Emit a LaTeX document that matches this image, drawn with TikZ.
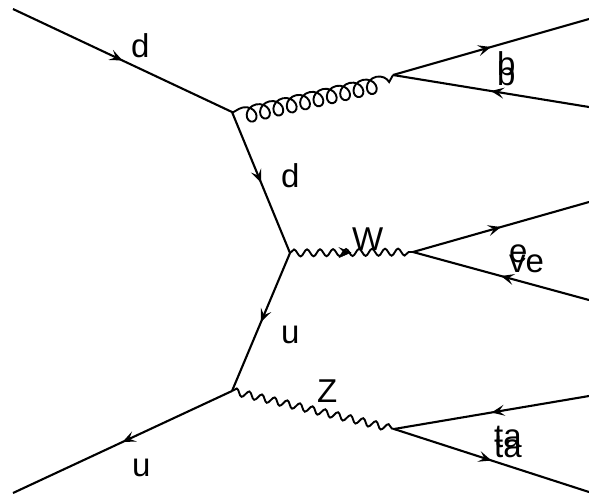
\documentclass[tikz,border=0pt]{standalone}
\usepackage{fontspec}
\setmainfont{Liberation Sans}
\usetikzlibrary{decorations.pathmorphing,decorations.markings,arrows.meta}
\begin{document}
\begin{tikzpicture}[x=1pt,y=-1pt,
  fermion/.style={draw, line width=2.1pt, postaction={decorate},
    decoration={markings, mark=at position 0.5 with {\arrow{Stealth[length=13pt,width=11pt,inset=5.5pt]}}}},
  gluon/.style={draw, line width=1.9pt, decorate,
    decoration={coil, amplitude=8pt, segment length=13.7pt, aspect=1, raise=-6pt, pre length=0pt, post length=0pt}},
  photon/.style={draw, line width=1.9pt, decorate,
    decoration={snake, amplitude=3.5pt, segment length=13pt}},
  midarrow/.style={draw=none, postaction={decorate},
    decoration={markings, mark=at position 0.5 with {\arrow{Stealth[length=13pt,width=11pt,inset=5.5pt]}}}},
  lbl/.style={anchor=base west, inner sep=0pt, font=\fontsize{33}{33}\selectfont}]
\useasboundingbox (0,0) rectangle (589,496);
% vertices
\coordinate (v1) at (232,112);
\coordinate (v2) at (393,75);
\coordinate (v3) at (290,253);
\coordinate (v4) at (413,252);
\coordinate (v5) at (232,391);
\coordinate (v6) at (394,429);
% external ends
\coordinate (din) at (13,9);
\coordinate (uout) at (13,493);
\coordinate (bout) at (589,19);
\coordinate (bbin) at (589,107);
\coordinate (nuout) at (589,202);
\coordinate (ebin) at (589,300);
\coordinate (tain) at (589,396);
\coordinate (taout) at (589,492);
% lines
\path[fermion] (din) -- (v1);
\path[gluon] (v1) -- (v2);
\path[fermion] (v2) -- (bout);
\path[fermion] (bbin) -- (v2);
\path[fermion] (v1) -- (v3);
\path[photon] (v3) -- (v4);
\path[midarrow] (v3) -- (v4);
\path[fermion] (v4) -- (nuout);
\path[fermion] (ebin) -- (v4);
\path[fermion] (v3) -- (v5);
\path[fermion] (v5) -- (uout);
\path[photon] (v5) -- (v6);
\path[fermion] (tain) -- (v6);
\path[fermion] (v6) -- (taout);
% labels
\node[lbl] (ld1) at (131,57) {d};
\node[lbl] (ld2) at (281,187) {d};
\node[lbl] (lu1) at (281,343) {u};
\node[lbl] (lu2) at (132,476) {u};
\node[lbl] (lW) at (352,250) {W};
\node[lbl] (lZ) at (317,402) {Z};
\node[lbl] (lb1) at (497,75) {b};
\node[lbl] (lb2) at (497,85) {b};
\node[lbl] (le) at (509,262) {e};
\node[lbl] (lve) at (509,272) {ve};
\node[lbl] (lta1) at (494,447) {ta};
\node[lbl] (lta2) at (494,457) {ta};
\end{tikzpicture}
\end{document}
